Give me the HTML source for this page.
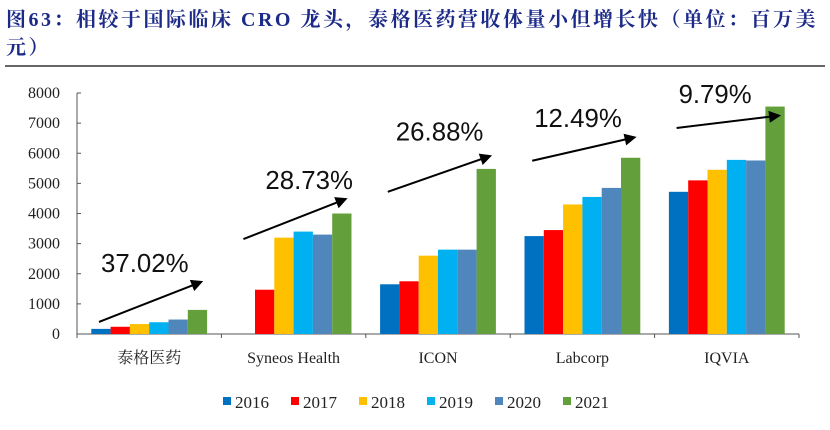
<!DOCTYPE html>
<html><head><meta charset="utf-8"><style>
body{margin:0;background:#fff;width:830px;height:430px;overflow:hidden;position:relative}
#title{position:absolute;left:6px;top:6px;width:822px;font:bold 20px/28px "Liberation Serif","Noto Serif CJK SC",serif;color:#1c2a88;letter-spacing:2.5px}
#rule{position:absolute;left:5px;top:65px;width:820px;height:2px;background:#666}
svg{position:absolute;left:0;top:0}
</style></head><body>
<div id="title">图63：相较于国际临床 CRO 龙头，泰格医药营收体量小但增长快（单位：百万美元）</div>
<div id="rule"></div>
<svg id="chart" width="830" height="430"></svg>
<script>
const categories=["泰格医药","Syneos Health","ICON","Labcorp","IQVIA"];
const years=["2016","2017","2018","2019","2020","2021"];
const colors=["#0070c0","#ff0000","#ffc000","#00b0f0","#4f87bd","#63a03c"];
const v2016=[170,0,1650,3250,4720];
const v2017=[240,1470,1750,3450,5100];
const v2018=[330,3200,2600,4300,5450];
const v2019=[390,3400,2800,4550,5780];
const v2020=[480,3300,2800,4850,5760];
const v2021=[800,4000,5480,5850,7550];
const growth=["37.02%","28.73%","26.88%","12.49%","9.79%"];
const yTicks=[0,1000,2000,3000,4000,5000,6000,7000,8000];
// annotation arrow/label levels (in axis value units)
const arrowStartVal=[400,3150,4720,5750,6840];
const arrowEndVal=[1700,4450,5880,6510,7240];
const labelVal=[2060,4810,6430,6870,7670];
const series=[v2016,v2017,v2018,v2019,v2020,v2021];
const NS="http://www.w3.org/2000/svg";
const svg=document.getElementById('chart');
const x0=77,x1=799,y0=334,yTop=93,yMax=8000;
const gw=(x1-x0)/categories.length,bw=19.3,pad=(gw-6*bw)/2;
const y=v=>y0-(v/yMax)*(y0-yTop);
const gx=i=>x0+i*gw;
function mk(t,a){const e=document.createElementNS(NS,t);for(const k in a)e.setAttribute(k,a[k]);svg.appendChild(e);return e;}
const defs=mk('defs',{});
const mar=document.createElementNS(NS,'marker');
[['id','ah'],['markerWidth','16'],['markerHeight','12'],['viewBox','0 0 8 8'],['refX','5'],['refY','4'],['orient','auto'],['markerUnits','userSpaceOnUse']].forEach(p=>mar.setAttribute(p[0],p[1]));
const mp=document.createElementNS(NS,'path');mp.setAttribute('d','M0,0 L8,4 L0,8 Z');mp.setAttribute('fill','#000');mar.appendChild(mp);defs.appendChild(mar);
let ax=mk('line',{x1:x0,y1:yTop,x2:x0,y2:y0,stroke:'#555','stroke-width':1});

ax=mk('line',{x1:x0,y1:y0,x2:x1,y2:y0,stroke:'#555','stroke-width':1});

yTicks.forEach(t=>{
 mk('line',{x1:x0,y1:y(t),x2:x0+4,y2:y(t),stroke:'#555'});
 const tx=mk('text',{x:60,y:y(t)+5,'text-anchor':'end','font-family':'Liberation Serif, serif','font-size':16,fill:'#222'});
 tx.textContent=t;
 
});
for(let i=0;i<=categories.length;i++)mk('line',{x1:gx(i),y1:y0,x2:gx(i),y2:y0+4,stroke:'#555'});
categories.forEach((c,i)=>{
 series.forEach((s,j)=>{
  if(s[i]<=0)return;
  const r=mk('rect',{x:gx(i)+pad+j*bw,y:y(s[i]),width:bw,height:y0-y(s[i]),fill:colors[j]});
  
 });
 const lb=mk('text',{x:gx(i)+gw/2,y:363,'text-anchor':'middle','font-family':'Liberation Serif, Noto Serif CJK SC, serif','font-size':16,fill:'#222'});
 lb.textContent=c;
 const sx=gx(i)+22, ex=gx(i)+122;
 const ar=mk('line',{x1:sx,y1:y(arrowStartVal[i]),x2:ex,y2:y(arrowEndVal[i]),stroke:'#000','stroke-width':2,'marker-end':'url(#ah)'});
 
 const gt=mk('text',{x:gx(i)+24+(i==1?20:0)+(i==2?6:0),y:y(labelVal[i]),'font-family':'Liberation Sans, sans-serif','font-size':26,fill:'#111',textLength:growth[i].length*14.6,lengthAdjust:'spacingAndGlyphs'});
 gt.textContent=growth[i];
});
years.forEach((yr,j)=>{
 const lx=223+j*68;
 const sq=mk('rect',{x:lx,y:397,width:8,height:8,fill:colors[j]});
 
 const t=mk('text',{x:lx+12,y:408,'font-family':'Liberation Serif, serif','font-size':17,fill:'#222'});
 t.textContent=yr;
});
</script>
</body></html>
